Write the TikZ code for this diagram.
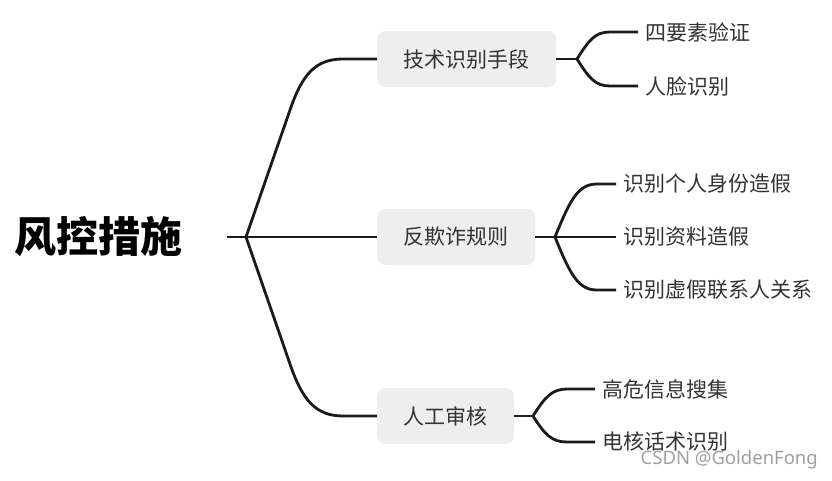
\documentclass[tikz,border=0pt]{standalone}
\usepackage{fontspec}
\newfontfamily\cjk{Noto Sans CJK SC}
\newfontfamily\wmfont{Noto Sans}
\definecolor{linec}{HTML}{1A1A1A}
\definecolor{boxc}{HTML}{EEEEEE}
\definecolor{txtc}{HTML}{333333}
\definecolor{wmc}{HTML}{A0A0A0}
\begin{document}
\begin{tikzpicture}[x=1pt,y=-1pt,
  conn/.style={draw=linec,line width=2.8pt,line join=round},
  topicbox/.style={fill=boxc,rounded corners=8pt,inner xsep=26.5pt,inner ysep=0pt,
    minimum height=56pt,anchor=west,text=txtc,font=\cjk\fontsize{21}{21}\selectfont},
  leaf/.style={anchor=west,inner xsep=7pt,inner ysep=0pt,text=txtc,
    font=\cjk\fontsize{21}{21}\selectfont},
  rootnode/.style={inner sep=0pt,text=black,font=\cjk\bfseries\fontsize{42}{42}\selectfont}]
\useasboundingbox (0,0) rectangle (832,480);
\fill[white] (0,0) rectangle (832,480);

% root
\node[rootnode] (root) at (98.5,237) {风控措施};
\coordinate (r0) at (227,237);
\coordinate (b0) at (246,237);

% main topics
\node[topicbox] (t1) at (377,59) {技术识别手段};
\node[topicbox] (t2) at (377,237) {反欺诈规则};
\node[topicbox] (t3) at (377,416) {人工审核};

% leaves
\node[leaf] (k11) at (638,32) {四要素验证};
\node[leaf] (k12) at (638,86) {人脸识别};
\node[leaf] (k21) at (616,184) {识别个人身份造假};
\node[leaf] (k22) at (616,237) {识别资料造假};
\node[leaf] (k23) at (616,290) {识别虚假联系人关系};
\node[leaf] (k31) at (595,389) {高危信息搜集};
\node[leaf] (k32) at (595,442) {电核话术识别};

% branch points
\coordinate (c1) at (577,59);
\coordinate (c2) at (555,237);
\coordinate (c3) at (533,416);

% main connectors
\draw[conn] (r0) -- (t2.west);
\draw[conn] (b0) -- (290,110) .. controls (302,75) and (315,59) .. (343,59) -- (t1.west);
\draw[conn] (b0) -- (290,364) .. controls (302,399) and (315,416) .. (343,416) -- (t3.west);

% topic 1 children
\draw[conn] (t1.east) -- (c1);
\draw[conn] (c1) .. controls (589,40) and (595,32) .. (610,32) -- (k11.west);
\draw[conn] (c1) .. controls (589,78) and (595,86) .. (610,86) -- (k12.west);

% topic 2 children
\draw[conn] (t2.east) -- (c2);
\draw[conn] (c2) .. controls (570,200) and (578,184) .. (597,184) -- (k21.west);
\draw[conn] (c2) -- (k22.west);
\draw[conn] (c2) .. controls (570,274) and (578,290) .. (597,290) -- (k23.west);

% topic 3 children
\draw[conn] (t3.east) -- (c3);
\draw[conn] (c3) .. controls (545,397) and (552,389) .. (567,389) -- (k31.west);
\draw[conn] (c3) .. controls (545,435) and (552,442) .. (567,442) -- (k32.west);

% watermark
\node[anchor=east,inner sep=0pt,text=wmc,font=\wmfont\fontsize{18.5}{18.5}\selectfont] (wm) at (818,460) {CSDN @GoldenFong};
\end{tikzpicture}
\end{document}
